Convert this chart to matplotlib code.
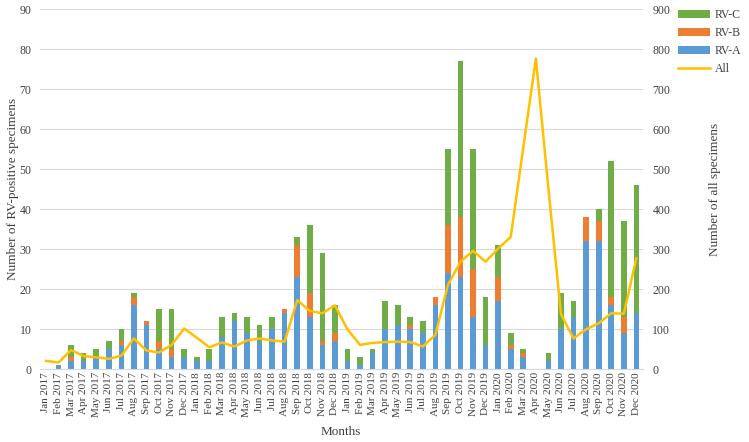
import matplotlib
matplotlib.use("Agg")
import matplotlib.pyplot as plt
import numpy as np

months = [f"{m} {y}" for y in (2017, 2018, 2019, 2020)
          for m in ["Jan", "Feb", "Mar", "Apr", "May", "Jun", "Jul", "Aug", "Sep", "Oct", "Nov", "Dec"]]

rv_a = [0, 1, 2, 2, 3, 5, 6, 16, 11, 5, 3, 3,
        2, 2, 8, 12, 9, 7, 10, 14, 23, 13, 6, 7,
        2, 1, 4, 10, 11, 10, 9, 16, 24, 23, 13, 6,
        17, 5, 3, 0, 2, 10, 13, 32, 32, 16, 9, 14]
rv_b = [0, 0, 1, 0, 0, 0, 1, 2, 1, 2, 2, 0,
        0, 0, 0, 0, 0, 0, 0, 1, 8, 6, 1, 2,
        0, 0, 0, 0, 0, 1, 0, 2, 12, 15, 12, 0,
        6, 1, 1, 0, 0, 0, 0, 6, 5, 2, 4, 0]
rv_c = [0, 0, 3, 2, 2, 2, 3, 1, 0, 8, 10, 2,
        1, 3, 5, 2, 4, 4, 3, 0, 2, 17, 22, 7,
        3, 2, 1, 7, 5, 2, 3, 0, 19, 39, 30, 12,
        8, 3, 1, 0, 2, 9, 4, 0, 3, 34, 24, 32]
all_specimens = [21, 17, 48, 33, 30, 26, 34, 77, 47, 42, 61, 102,
                 79, 55, 67, 57, 72, 77, 72, 69, 173, 146, 140, 160,
                 100, 61, 66, 68, 69, 68, 57, 86, 211, 269, 296, 269,
                 302, 331, 555, 777, 451, 138, 77, 100, 115, 140, 139, 277]

plt.rcParams['font.family'] = ['Liberation Serif', 'DejaVu Serif']
c_a, c_b, c_c, c_line = "#5B9BD5", "#ED7D31", "#70AD47", "#FFC000"
tcol = "#404040"

fig = plt.figure(figsize=(7.49, 4.42), dpi=100)
ax = fig.add_axes([0.053, 0.1645, 0.805, 0.8145])
x = np.arange(len(months))
a = np.array(rv_a); b = np.array(rv_b); c = np.array(rv_c)
w = 0.45
ax.bar(x, a, w, color=c_a, label="RV-A", zorder=2)
ax.bar(x, b, w, bottom=a, color=c_b, label="RV-B", zorder=2)
ax.bar(x, c, w, bottom=a + b, color=c_c, label="RV-C", zorder=2)
ax.set_xlim(-0.5, len(months) - 0.5)
ax.set_ylim(0, 90)
ax.set_yticks(np.arange(0, 91, 10))
ax.yaxis.grid(True, color="#D9D9D9", lw=0.8, zorder=0)
ax.set_axisbelow(True)
ax.set_xticks(x)
ax.set_xticklabels(months, rotation=90, fontsize=8, color=tcol)
ax.tick_params(axis='both', length=0)
ax.tick_params(axis='y', labelsize=8.5, labelcolor=tcol, pad=6)
ax.tick_params(axis='x', pad=2)
for s in ["top", "right", "left"]:
    ax.spines[s].set_visible(False)
ax.spines["bottom"].set_color("#D9D9D9")
ax.set_ylabel("Number of RV-positive specimens", fontsize=9.5, color=tcol, labelpad=0)
ax.set_xlabel("Months", fontsize=9.5, color=tcol, labelpad=6)

ax2 = ax.twinx()
ax2.plot(x, all_specimens, color=c_line, lw=1.8, label="All", zorder=3)
ax2.set_ylim(0, 900)
ax2.set_yticks(np.arange(0, 901, 100))
ax2.tick_params(axis='y', length=0, labelsize=8.5, labelcolor=tcol, pad=7)
for s in ["top", "right", "left", "bottom"]:
    ax2.spines[s].set_visible(False)
ax2.set_ylabel("Number of all specimens", fontsize=9.5, color=tcol, labelpad=28)

h1, l1 = ax.get_legend_handles_labels()
h2, l2 = ax2.get_legend_handles_labels()
handles = [h1[2], h1[1], h1[0], h2[0]]
labels = ["RV-C", "RV-B", "RV-A", "All"]
fig.legend(handles, labels, loc="upper left", bbox_to_anchor=(0.893, 1.0),
           frameon=False, fontsize=8.5, handlelength=2.7, labelspacing=0.5,
           handletextpad=0.4, borderpad=0.3, labelcolor=tcol)

fig.savefig("out.png", dpi=100)
